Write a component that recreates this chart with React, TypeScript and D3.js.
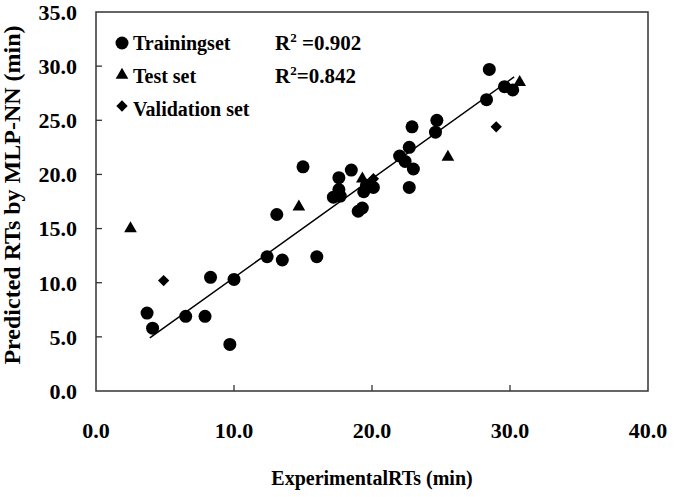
import React from 'react';
import * as d3 from 'd3';

// training set (circles)
const trainX = [3.7, 4.1, 6.5, 7.9, 8.3, 9.7, 10.0, 12.4, 13.1, 13.5, 15.0, 16.0, 17.6, 18.5, 17.6, 17.2, 17.7, 19.0, 19.3, 19.4, 19.6, 20.1, 22.0, 22.4, 23.0, 22.7, 22.9, 22.7, 24.6, 24.7, 28.3, 28.5, 29.6, 30.2];
const trainY = [7.2, 5.8, 6.9, 6.9, 10.5, 4.3, 10.3, 12.4, 16.3, 12.1, 20.7, 12.4, 19.7, 20.4, 18.6, 17.9, 18.0, 16.6, 16.9, 18.4, 19.0, 18.8, 21.7, 21.2, 20.5, 22.5, 24.4, 18.8, 23.9, 25.0, 26.9, 29.7, 28.1, 27.8];

// test set (triangles)
const testX = [2.5, 14.7, 19.3, 25.5, 30.7];
const testY = [15.0, 17.0, 19.6, 21.6, 28.5];

// validation set (diamonds)
const validX = [4.9, 20.1, 29.0];
const validY = [10.2, 19.6, 24.4];

// fitted line
const fitX = [3.9, 30.3];
const fitSlope = 0.913;
const fitIntercept = 1.34;

const xTicks = [0, 10, 20, 30, 40];
const yTicks = [0, 5, 10, 15, 20, 25, 30, 35];

const legendLabels = ['Trainingset', 'Test set', 'Validation set'];
const r2Values = ['0.902', '0.842'];

const FONT = "'Liberation Serif', 'Times New Roman', 'DejaVu Serif', serif";

export default function App() {
    const width = 681;
    const height = 497;
    const left = 96, right = 648, top = 12, bottom = 391;

    const x = d3.scaleLinear().domain([0, 40]).range([left, right]);
    const y = d3.scaleLinear().domain([0, 35]).range([bottom, top]);

    const tri = d3.symbol().type(d3.symbolTriangle).size(70)();
    const dia = d3.symbol().type(d3.symbolSquare).size(64)();
    const fmt = d3.format('.1f');

    const fitLine = d3.line<number>()
        .x(d => x(d))
        .y(d => y(fitSlope * d + fitIntercept));

    const legendY = [50, 83, 116];

    return (
        <svg width={width} height={height}
            style={{ position: 'absolute', left: 0, top: 0, background: '#fff', fontFamily: FONT, fontWeight: 'bold' }}>

            {/* frame */}
            <rect x={left} y={top} width={right - left} height={bottom - top}
                fill="none" stroke="#333" strokeWidth={1.5} />

            {/* inner ticks */}
            {yTicks.filter(t => t > 0 && t < 35).map(t => (
                <line key={'yt' + t} x1={left} x2={left + 6} y1={y(t)} y2={y(t)} stroke="#333" strokeWidth={1.3} />
            ))}
            {xTicks.filter(t => t > 0 && t < 40).map(t => (
                <line key={'xt' + t} x1={x(t)} x2={x(t)} y1={bottom} y2={bottom - 6} stroke="#333" strokeWidth={1.3} />
            ))}

            {/* tick labels */}
            {yTicks.map(t => (
                <text key={'yl' + t} x={77} y={y(t)} dy="0.36em" textAnchor="end" fontSize={22}>{fmt(t)}</text>
            ))}
            {xTicks.map(t => (
                <text key={'xl' + t} x={x(t)} y={438} textAnchor="middle" fontSize={22}>{fmt(t)}</text>
            ))}

            {/* axis titles */}
            <text x={372} y={485} textAnchor="middle" fontSize={20}>ExperimentalRTs (min)</text>
            <text transform="translate(20,195) rotate(-90)" textAnchor="middle" fontSize={24}>Predicted RTs by MLP-NN (min)</text>

            {/* fitted line */}
            <path d={fitLine(fitX) || ''} fill="none" stroke="#000" strokeWidth={1.5} />

            {/* points */}
            {trainX.map((v, i) => (
                <circle key={'c' + i} cx={x(v)} cy={y(trainY[i])} r={6.5} fill="#000" />
            ))}
            {testX.map((v, i) => (
                <path key={'t' + i} d={tri || ''} transform={`translate(${x(v)},${y(testY[i])})`} fill="#000" />
            ))}
            {validX.map((v, i) => (
                <path key={'d' + i} d={dia || ''} transform={`translate(${x(v)},${y(validY[i])}) rotate(45)`} fill="#000" />
            ))}

            {/* legend */}
            <circle cx={122} cy={43} r={6.5} fill="#000" />
            <path d={tri || ''} transform="translate(122,75)" fill="#000" />
            <path d={dia || ''} transform="translate(122,106) rotate(45)" fill="#000" />
            {legendLabels.map((l, i) => (
                <text key={'lg' + i} x={133} y={legendY[i]} fontSize={20}>{l}</text>
            ))}
            {r2Values.map((v, i) => (
                <text key={'r2' + i} x={275} y={legendY[i]} fontSize={21}>
                    R<tspan fontSize={13} dy={-8}>2</tspan><tspan dy={8}>{(i === 0 ? ' ' : '') + '=' + v}</tspan>
                </text>
            ))}
        </svg>
    );
}
